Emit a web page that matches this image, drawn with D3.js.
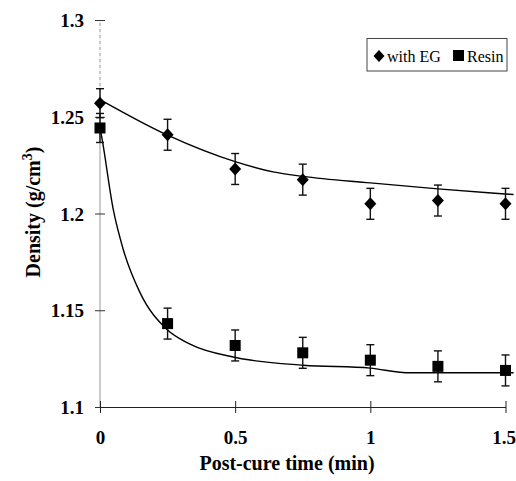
<!DOCTYPE html>
<html>
<head>
<meta charset="utf-8">
<script src="https://cdn.jsdelivr.net/npm/d3@7"></script>
<style>
  html, body { margin: 0; padding: 0; background: #fff; }
  svg { display: block; }
  svg text { font-family: "Liberation Serif", "Times New Roman", Times, "DejaVu Serif", serif !important; }
</style>
</head>
<body>
<svg id="chart" width="516" height="481"></svg>
<script>
// ---- data ----
const times = [0, 0.25, 0.5, 0.75, 1.0, 1.25, 1.5];
const egValues = [1.257, 1.2407, 1.223, 1.2175, 1.205, 1.2067, 1.205];
const egErrors = [0.0075, 0.008, 0.008, 0.008, 0.008, 0.008, 0.008];
const resinValues = [1.2442, 1.1431, 1.1318, 1.128, 1.1242, 1.121, 1.1189];
const resinErrors = [0.0075, 0.008, 0.008, 0.008, 0.008, 0.008, 0.008];
// fitted trend lines
const egTrendX = [0, 0.25, 0.5, 0.64, 0.75, 1.0, 1.25, 1.5, 1.53];
const egTrendY = [1.2589, 1.2405, 1.2268, 1.2215, 1.2192, 1.2158, 1.2127, 1.2101, 1.2098];
const resinTrendX = [0, 0.006, 0.049, 0.086, 0.148, 0.247, 0.333, 0.502, 0.752, 1.0, 1.134, 1.3, 1.53];
const resinTrendY = [1.2442, 1.2398, 1.2021, 1.1814, 1.1591, 1.1402, 1.1325, 1.1256, 1.1216, 1.1201, 1.1177, 1.1177, 1.1177];
const xTicks = [0, 0.5, 1, 1.5];
const xTickLabels = ["0", "0.5", "1", "1.5"];
const yTicks = [1.1, 1.15, 1.2, 1.25, 1.3];
const yTickLabels = ["1.1", "1.15", "1.2", "1.25", "1.3"];
const seriesNames = ["with EG", "Resin"];

const svg = d3.select("#chart");
const x = d3.scaleLinear().domain([0, 1.5]).range([100, 505.5]);
const y = d3.scaleLinear().domain([1.1, 1.3]).range([407, 20]);
const FONT = '"Liberation Serif", "Times New Roman", Times, "DejaVu Serif", serif';

function diamondPath(w, h) {
  return `M0,${-h}L${w},0L0,${h}L${-w},0Z`;
}

// y axis (gray)
svg.append("line").attr("x1", x(0)).attr("x2", x(0)).attr("y1", y(1.3)).attr("y2", y(1.1))
  .attr("stroke", "#b0b0b0").attr("stroke-width", 1.3);
svg.append("line").attr("x1", x(0)).attr("x2", x(0)).attr("y1", y(1.3)).attr("y2", y(1.26))
  .attr("stroke", "#fff").attr("stroke-width", 1.5).attr("stroke-dasharray", "3,3");
const yAxis = d3.axisLeft(y).tickValues(yTicks).tickFormat((d, i) => yTickLabels[i]).tickSizeInner(5).tickSizeOuter(0);
const gy = svg.append("g").attr("transform", `translate(${x(0)},0)`).call(yAxis);
gy.attr("font-family", FONT);
gy.select(".domain").remove();
gy.selectAll(".tick line").attr("x2", 5).attr("x1", -5).attr("stroke", "#333");
gy.selectAll(".tick text").attr("x", -16).attr("dy", "0.35em")
  .style("font-size", "19px").style("font-weight", "bold").attr("fill", "#000");

// x axis
const xAxis = d3.axisBottom(x).tickValues(xTicks).tickFormat((d, i) => xTickLabels[i]).tickSizeInner(6).tickSizeOuter(0);
const gx = svg.append("g").attr("transform", `translate(0,${y(1.1)})`).call(xAxis);
gx.attr("font-family", FONT);
gx.select(".domain").attr("stroke", "#222").attr("stroke-width", 1.2);
gx.selectAll(".tick line").attr("y1", -6).attr("y2", 6).attr("stroke", "#222");
gx.selectAll(".tick text").attr("y", 24).attr("dy", "0.71em")
  .style("font-size", "19px").style("font-weight", "bold").attr("fill", "#000")
  .attr("text-anchor", (d, i) => i === xTicks.length - 1 ? "end" : "middle")
  .attr("dx", (d, i) => i === xTicks.length - 1 ? 10 : 0);

// axis titles
svg.append("text").attr("x", 287).attr("y", 470).attr("text-anchor", "middle")
  .style("font-size", "20px").style("font-weight", "bold").text("Post-cure time (min)");
const yl = svg.append("text").attr("transform", "translate(40,212) rotate(-90)").attr("text-anchor", "middle")
  .style("font-size", "20px").style("font-weight", "bold");
yl.append("tspan").text("Density (g/cm");
yl.append("tspan").attr("dy", -8).style("font-size", "14px").text("3");
yl.append("tspan").attr("dy", 8).text(")");

// trend lines
const line = d3.line().x(d => x(d[0])).y(d => y(d[1])).curve(d3.curveMonotoneX);
svg.append("path").datum(egTrendX.map((t, i) => [t, egTrendY[i]])).attr("d", line)
  .attr("fill", "none").attr("stroke", "#000").attr("stroke-width", 1.4);
svg.append("path").datum(resinTrendX.map((t, i) => [t, resinTrendY[i]])).attr("d", line)
  .attr("fill", "none").attr("stroke", "#000").attr("stroke-width", 1.4);

// error bars
function errorBars(vals, errs) {
  const g = svg.append("g").attr("stroke", "#111").attr("stroke-width", 1.4);
  times.forEach((t, i) => {
    const cx = x(t), top = y(vals[i] + errs[i]), bot = y(vals[i] - errs[i]);
    g.append("line").attr("x1", cx).attr("x2", cx).attr("y1", top).attr("y2", bot);
    g.append("line").attr("x1", cx - 4).attr("x2", cx + 4).attr("y1", top).attr("y2", top);
    g.append("line").attr("x1", cx - 4).attr("x2", cx + 4).attr("y1", bot).attr("y2", bot);
  });
}
errorBars(egValues, egErrors);
errorBars(resinValues, resinErrors);

// markers
svg.append("g").selectAll("path").data(times).join("path")
  .attr("transform", (t, i) => `translate(${x(t)},${y(egValues[i])})`)
  .attr("d", diamondPath(6, 6.5)).attr("fill", "#000");
svg.append("g").selectAll("rect").data(times).join("rect")
  .attr("x", t => x(t) - 5.5).attr("y", (t, i) => y(resinValues[i]) - 5.5)
  .attr("width", 11).attr("height", 11).attr("fill", "#000");

// legend
const lg = svg.append("g");
lg.append("rect").attr("x", 367).attr("y", 38.5).attr("width", 140).attr("height", 32.5)
  .attr("fill", "#fff").attr("stroke", "#444").attr("stroke-width", 1);
lg.append("path").attr("transform", "translate(379,56)").attr("d", diamondPath(5.5, 6)).attr("fill", "#000");
lg.append("text").attr("x", 387).attr("y", 62).style("font-size", "16px").text(seriesNames[0]);
lg.append("rect").attr("x", 453).attr("y", 50).attr("width", 11).attr("height", 11).attr("fill", "#000");
lg.append("text").attr("x", 467).attr("y", 62).style("font-size", "16px").text(seriesNames[1]);
</script>
</body>
</html>
